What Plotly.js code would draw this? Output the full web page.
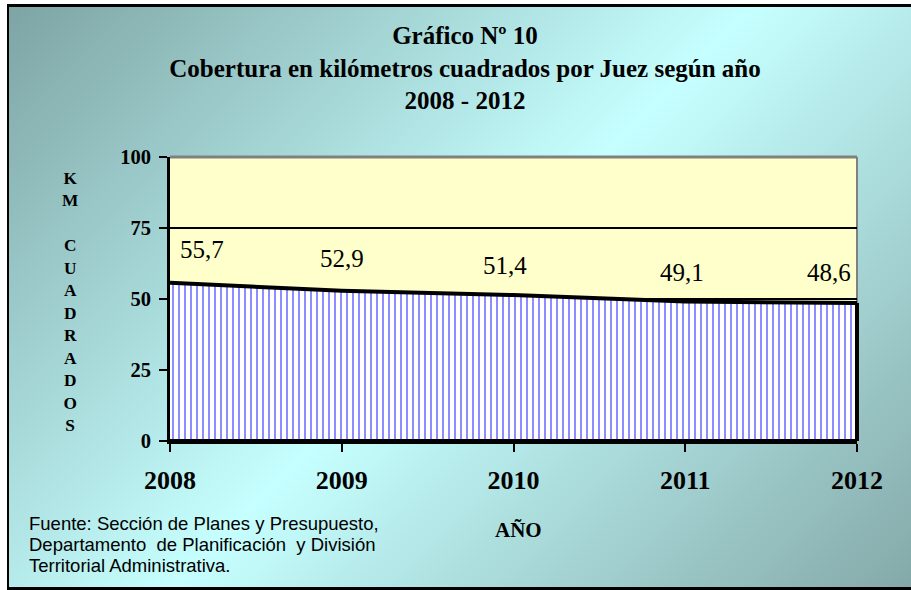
<!DOCTYPE html>
<html>
<head>
<meta charset="utf-8">
<script src="https://cdn.plot.ly/plotly-3.0.1.min.js"></script>
<style>
  html, body { margin: 0; padding: 0; background: #ffffff; overflow: hidden; }
  #frame {
    position: absolute; left: 7px; top: 4px; width: 910px; height: 586px;
    box-sizing: border-box;
    border-left: 2px solid #000; border-top: 3px solid #000; border-bottom: 3px solid #000;
    background: linear-gradient(135deg, #7ea4a4 0%, #c6ffff 50%, #84a8a8 100%);
  }
  #chart { position: absolute; left: 0; top: 0; width: 911px; height: 590px; }
</style>
</head>
<body>
<div id="frame"></div>
<div id="chart"></div>
<script>
// ---- data ----
const years = [2008, 2009, 2010, 2011, 2012];
const kmPerJudge = [55.7, 52.9, 51.4, 49.1, 48.6];
const valueLabels = ["55,7", "52,9", "51,4", "49,1", "48,6"];
const yTicks = [0, 25, 50, 75, 100];
const sourceLines = [
  "Fuente: Sección de Planes y Presupuesto,",
  "Departamento  de Planificación  y División",
  "Territorial Administrativa."
];

// ---- layout geometry (pixels) ----
const W = 911, H = 590;
const L = 170, R = 857, T = 157, B = 441;
const pw = R - L, ph = B - T;
const px = x => (x - L) / pw;          // pixel -> paper x
const py = y => (B - y) / ph;          // pixel -> paper y

// label offsets (styling, px)
const labelDx = [32, 0, -9, -3, -28];
const labelDy = [33, 32, 30, 29, 30];

const serif = "Liberation Serif, Times New Roman, serif";
const sans = "Liberation Sans, Arial, sans-serif";

// closed area path built from the data
const lastI = years.length - 1;
const areaX = years.concat([years[lastI], years[0]]);
const areaY = kmPerJudge.concat([0, 0]);

const trace = {
  x: areaX, y: areaY, type: 'scatter', mode: 'lines',
  fill: 'toself',
  fillpattern: { shape: '|', fgcolor: '#8c8cff', bgcolor: '#ffffff', size: 6, solidity: 0.33 },
  line: { color: '#000000', width: 4 },
  hoverinfo: 'skip', showlegend: false
};

const annotations = valueLabels.map((t, i) => ({
  x: years[i], y: kmPerJudge[i], xref: 'x', yref: 'y', text: t, showarrow: false,
  xshift: labelDx[i], yshift: labelDy[i],
  font: { family: serif, size: 25, color: '#000' }
}));

annotations.push({
  xref: 'paper', yref: 'paper', x: px(70), y: py(301.5), xanchor: 'center', yanchor: 'middle',
  text: "<b>K<br>M<br><br>C<br>U<br>A<br>D<br>R<br>A<br>D<br>O<br>S</b>",
  showarrow: false, font: { family: serif, size: 17.3, color: '#000' }
});
annotations.push({
  xref: 'paper', yref: 'paper', x: px(518), y: py(530), xanchor: 'center', yanchor: 'middle',
  text: "<b>AÑO</b>", showarrow: false, font: { family: serif, size: 21, color: '#000' }
});
sourceLines.forEach((t, i) => annotations.push({
  xref: 'paper', yref: 'paper', x: px(27), y: py(523 + i * 21), xanchor: 'left', yanchor: 'middle', align: 'left',
  text: t, showarrow: false, font: { family: sans, size: 18.5, color: '#000' }
}));

const layout = {
  width: W, height: H,
  margin: { l: L, r: W - R, t: T, b: H - B, pad: 0 },
  paper_bgcolor: 'rgba(0,0,0,0)',
  plot_bgcolor: '#ffffcc',
  showlegend: false,
  title: {
    text: "<b>Gráfico Nº 10<br>Cobertura en kilómetros cuadrados por Juez según año<br>2008 - 2012</b>",
    font: { family: serif, size: 25, color: '#000' },
    x: 465 / W, xref: 'container', xanchor: 'center',
    y: 1 - 44 / H, yref: 'container', yanchor: 'top'
  },
  xaxis: {
    range: [years[0], years[lastI]],
    tickvals: years, ticktext: years.map(String),
    showgrid: false, zeroline: false,
    showline: true, linecolor: '#000', linewidth: 3,
    ticks: 'outside', ticklen: 8, tickwidth: 2, tickcolor: '#000',
    ticklabelstandoff: 6,
    tickfont: { family: serif, size: 26, color: '#000', weight: 'bold' }
  },
  yaxis: {
    range: [0, 100], tickvals: yTicks, ticktext: yTicks.map(String),
    showgrid: true, gridcolor: '#000', gridwidth: 2, zeroline: false,
    showline: true, linecolor: '#000', linewidth: 3,
    ticks: 'outside', ticklen: 8, tickwidth: 2, tickcolor: '#000',
    ticklabelstandoff: 4,
    tickfont: { family: serif, size: 20.5, color: '#000', weight: 'bold' }
  },
  shapes: [
    { type: 'line', xref: 'paper', yref: 'paper', x0: 0, x1: 1, y0: 1, y1: 1,
      line: { color: '#808080', width: 3 }, layer: 'above' },
    { type: 'line', xref: 'paper', yref: 'paper', x0: 1, x1: 1, y0: 0, y1: 1,
      line: { color: '#808080', width: 2 }, layer: 'below' },
    // right edge of the filled area, from the last data value down to zero
    { type: 'line', xref: 'paper', yref: 'y', x0: 1, x1: 1, y0: 0, y1: kmPerJudge[lastI],
      line: { color: '#000', width: 4 }, layer: 'above' }
  ],
  annotations: annotations
};

Plotly.newPlot('chart', [trace], layout, { displayModeBar: false, staticPlot: true });
</script>
</body>
</html>
